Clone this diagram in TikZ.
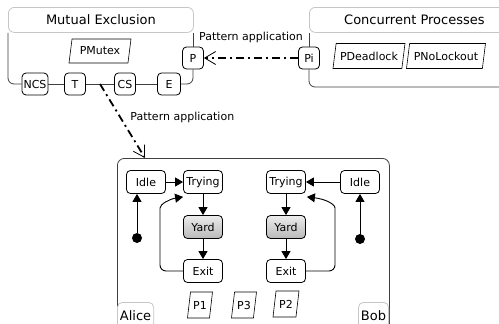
\documentclass[tikz,border=0pt]{standalone}
\usepackage{fontspec}
\setmainfont{DejaVu Sans}
\usetikzlibrary{arrows.meta,shapes.geometric,calc}
\begin{document}
\begin{tikzpicture}[x=1pt,y=-1pt,
  box/.style={draw, rounded corners=4pt, fill=white, font=\fontsize{11}{13}\selectfont,
    minimum height=22, minimum width=21, inner sep=1.5pt, line width=0.8pt},
  sbox/.style={box, minimum width=39, minimum height=23},
  yard/.style={sbox, top color=gray!15, bottom color=gray!55},
  hdr/.style={draw=gray!45, rounded corners=6pt, fill=white, line width=0.8pt,
    font=\fontsize{13}{15}\selectfont, minimum height=25, anchor=north west},
  owner/.style={draw=gray!45, rounded corners=5pt, fill=white, line width=0.8pt,
    font=\fontsize{13}{15}\selectfont, minimum height=26, inner sep=2.5pt},
  para/.style={draw, trapezium, trapezium left angle=76, trapezium right angle=104,
    trapezium stretches body=true, fill=white, line width=0.6pt,
    font=\fontsize{11}{13}\selectfont, inner xsep=2pt, inner ysep=2pt},
  pkg/.style={draw=black!75, line width=0.8pt, rounded corners=6pt},
  flow/.style={-{Triangle[length=8pt,width=9pt]}, line width=0.9pt},
  pattern/.style={line width=1.8pt, dash pattern=on 8pt off 4pt on 2pt off 4pt,
    -{Straight Barb[length=11pt,width=13pt,line width=0.8pt]}},
  lbl/.style={font=\fontsize{11}{13}\selectfont},
  dotn/.style={circle, fill=black, inner sep=0pt, minimum size=10}
]
\useasboundingbox (0,0) rectangle (499,324);
\fill[white] (0,0) rectangle (499,324);
\clip (0,0) rectangle (499,324);

% ---------- Mutual Exclusion package ----------
\node[hdr, minimum width=185] (me) at (8,7) {Mutual Exclusion};
\node[para, minimum width=62, minimum height=24] (pmutex) at (100,51) {PMutex};
\node[box, minimum width=24] (ncs) at (35,84) {NCS};
\node[box] (t) at (75,84) {T};
\node[box] (cs) at (125,84) {CS};
\node[box, minimum width=23] (e) at (169,84) {E};
\node[box] (p) at (193,58) {P};
\draw[pkg] (me.south west) |- (ncs.west);
\draw[pkg] (ncs) -- (t);
\draw[pkg] (t) -- (cs);
\draw[pkg] (cs) -- (e);
\draw[pkg] (e.east) -| (p.south);
\draw[pkg] (p.north) -- (p.north |- me.south);

% ---------- Concurrent Processes package ----------
\node[hdr, minimum width=210] (cp) at (309,7) {Concurrent Processes};
\node[box] (pi) at (309,58) {Pi};
\node[para, minimum width=72, minimum height=25] (pdead) at (369,56) {PDeadlock};
\node[para, minimum width=79, minimum height=25] (pnolock) at (446,56) {PNoLockout};
\coordinate (cpend) at (520,87);
\draw[pkg] (pi.north) -- (pi.north |- cp.south);
\draw[pkg] (pi.south) |- (cpend);

% ---------- pattern application Pi -> P ----------
\draw[pattern] (pi.west) -- (p.east)
  node[lbl, midway, yshift=21pt] {Pattern application};

% ---------- system box ----------
\node[draw=black!75, line width=0.8pt, rounded corners=7pt, anchor=north west,
  minimum width=272, minimum height=200] (sys) at (117,158) {};
\coordinate (tcs) at ($(t.east)!0.5!(cs.west)$);
\coordinate (sysin) at ($(sys.north west)+(28,0)$);
\draw[pattern] (tcs) -- (sysin)
  node[lbl, pos=0.45, anchor=west, xshift=6pt] {Pattern application};

% ---------- Alice ----------
\node[sbox] (idleA) at (146,182) {Idle};
\node[sbox] (tryA) at (203,182) {Trying};
\node[yard] (yardA) at (203,227) {Yard};
\node[sbox] (exitA) at (203,271) {Exit};
\node[dotn] (dotA) at (137,238) {};
\draw[flow] (idleA) -- (tryA);
\draw[flow] (tryA) -- (yardA);
\draw[flow] (yardA) -- (exitA);
\draw[flow] (dotA) -- (dotA |- idleA.south);
\draw[flow, rounded corners=6pt] (exitA.west) -| (160,214)
  .. controls (160,204) and (170,199) .. ($(tryA.south west)+(0,3)$);

% ---------- Bob ----------
\node[sbox] (tryB) at (286,182) {Trying};
\node[sbox] (idleB) at (360,182) {Idle};
\node[yard] (yardB) at (286,227) {Yard};
\node[sbox] (exitB) at (286,271) {Exit};
\node[dotn] (dotB) at (360,239) {};
\draw[flow] (idleB) -- (tryB);
\draw[flow] (tryB) -- (yardB);
\draw[flow] (yardB) -- (exitB);
\draw[flow] (dotB) -- (idleB);
\draw[flow, rounded corners=6pt] (exitB.east) -| (335,214)
  .. controls (335,204) and (325,199) .. ($(tryB.south east)+(1,3)$);

% ---------- parts ----------
\node[para, minimum width=25, minimum height=26] (p1) at (200,305) {P1};
\node[para, minimum width=25, minimum height=26] (p3) at (244,305) {P3};
\node[para, minimum width=26, minimum height=26] (p2) at (286,304) {P2};

\node[owner, anchor=north west] (alice) at (117,302) {Alice};
\node[owner, anchor=north east] (bob) at (389,302) {Bob};
\end{tikzpicture}
\end{document}
